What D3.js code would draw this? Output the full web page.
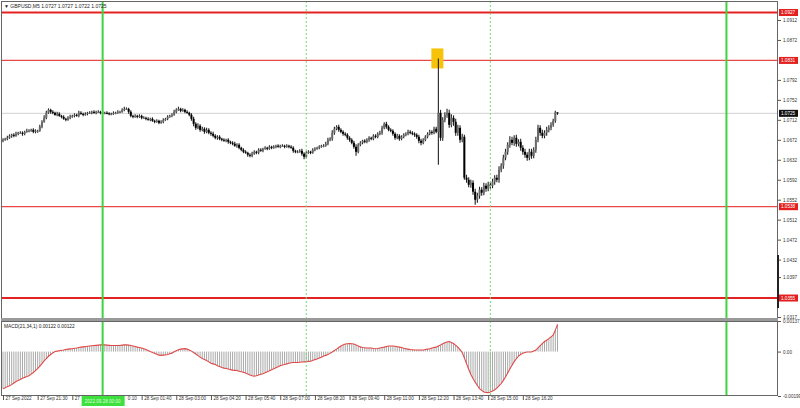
<!DOCTYPE html>
<html><head><meta charset="utf-8">
<script src="https://cdn.jsdelivr.net/npm/d3@7"></script>
<style>body{margin:0;background:#fff}svg{display:block}text{font-family:"Liberation Sans",Arial,sans-serif}</style>
</head><body><svg id="c" width="800" height="408"></svg>
<script>
const symbol = "GBPUSD,M5";
const titleQuote = ["1.0727","1.0727","1.0722","1.0725"];
const firstOpen = 1.0670;
const closes = [1.0672,1.0674,1.0676,1.0680,1.0682,1.0680,1.0684,1.0686,1.0686,1.0684,
1.0688,1.0690,1.0690,1.0692,1.0688,1.0690,1.0690,1.0698,1.0708,1.0716,
1.0726,1.0732,1.0728,1.0726,1.0722,1.0724,1.0720,1.0718,1.0714,1.0712,
1.0716,1.0718,1.0720,1.0722,1.0720,1.0726,1.0724,1.0722,1.0724,1.0726,
1.0726,1.0728,1.0726,1.0728,1.0728,1.0726,1.0726,1.0726,1.0725,1.0724,
1.0724,1.0726,1.0726,1.0728,1.0728,1.0732,1.0734,1.0734,1.0728,1.0720,
1.0718,1.0720,1.0718,1.0720,1.0716,1.0716,1.0714,1.0712,1.0714,1.0710,
1.0708,1.0710,1.0706,1.0708,1.0712,1.0714,1.0718,1.0720,1.0722,1.0728,
1.0732,1.0734,1.0730,1.0732,1.0728,1.0726,1.0722,1.0714,1.0704,1.0696,
1.0700,1.0692,1.0694,1.0688,1.0692,1.0686,1.0684,1.0680,1.0676,1.0678,
1.0674,1.0672,1.0670,1.0672,1.0668,1.0666,1.0664,1.0660,1.0662,1.0656,
1.0652,1.0648,1.0646,1.0642,1.0640,1.0644,1.0648,1.0646,1.0652,1.0650,
1.0654,1.0656,1.0654,1.0658,1.0656,1.0658,1.0660,1.0658,1.0660,1.0660,
1.0658,1.0660,1.0658,1.0656,1.0650,1.0648,1.0648,1.0650,1.0644,1.0638,
1.0646,1.0648,1.0646,1.0652,1.0654,1.0656,1.0658,1.0660,1.0660,1.0664,
1.0672,1.0674,1.0686,1.0694,1.0698,1.0692,1.0688,1.0684,1.0682,1.0676,
1.0672,1.0666,1.0658,1.0648,1.0662,1.0666,1.0670,1.0668,1.0672,1.0676,
1.0674,1.0680,1.0678,1.0684,1.0686,1.0696,1.0704,1.0698,1.0692,1.0690,
1.0684,1.0676,1.0680,1.0674,1.0678,1.0682,1.0684,1.0688,1.0686,1.0684,
1.0682,1.0678,1.0670,1.0666,1.0672,1.0678,1.0684,1.0688,1.0686,1.0694,
1.0688,1.0726,1.0676,1.0712,1.0722,1.0726,1.0702,1.0716,1.0708,1.0686,
1.0696,1.0672,1.0678,1.0596,1.0592,1.0582,1.0586,1.0568,1.0552,1.0560,
1.0572,1.0566,1.0580,1.0574,1.0582,1.0580,1.0588,1.0596,1.0592,1.0612,
1.0620,1.0636,1.0648,1.0662,1.0672,1.0666,1.0676,1.0664,1.0668,1.0656,
1.0648,1.0642,1.0636,1.0648,1.0640,1.0652,1.0672,1.0696,1.0686,1.0680,
1.0686,1.0692,1.0696,1.0702,1.0710,1.0727,1.0725];
const wickUpPips = [3,2,4,3,2,3,4,2,3,3,2,4,3,2,3,3,2,4,3,5,
4,3,2,3,2,4,3,2,3,2,3,4,2,3,2,4,3,2,3,2,
3,2,3,2,3,2,3,2,3,2,2,3,2,3,2,3,4,3,2,3,
2,3,2,3,2,3,2,3,2,3,2,3,2,3,3,2,3,2,3,4,
3,4,2,3,2,3,2,3,4,3,5,3,4,3,4,3,3,4,3,3,
3,2,3,2,3,2,3,4,3,3,2,3,3,2,3,4,3,2,3,3,
2,3,2,3,2,3,2,3,2,3,2,3,2,3,3,2,3,3,4,3,
3,3,2,3,3,2,3,2,3,4,4,3,5,4,3,4,3,3,3,3,
3,3,4,5,3,3,2,3,3,3,2,3,3,3,4,4,3,4,3,3,
3,3,4,3,3,3,3,4,3,3,3,3,4,4,3,3,3,4,3,4,
4,109,6,5,5,8,6,7,5,6,6,5,6,4,6,5,6,5,6,6,
6,5,6,5,6,5,6,5,6,7,5,6,6,5,7,6,5,6,5,6,
5,6,5,6,6,5,6,6,5,6,5,6,5,5,4,3,0];
const wickDownPips = [3,2,3,2,4,3,2,3,2,4,3,2,3,2,3,3,4,2,3,2,
3,2,4,3,2,3,2,3,2,3,2,3,2,3,2,3,2,3,2,3,
2,3,2,3,2,3,2,3,2,3,3,2,3,2,3,2,3,2,4,3,
3,2,3,2,3,2,3,2,3,2,3,2,3,2,3,2,3,2,3,2,
3,2,3,2,3,2,3,4,5,4,3,4,3,4,3,3,4,3,3,4,
3,3,2,3,4,3,3,2,4,3,3,3,2,4,3,3,2,3,3,2,
3,2,3,2,3,2,3,2,3,2,3,2,3,2,4,3,3,2,4,5,
3,2,3,2,3,2,3,2,3,2,3,3,4,4,3,4,3,4,3,4,
4,3,4,8,3,3,3,3,3,4,3,3,3,3,3,4,3,4,3,3,
4,4,3,4,3,3,3,3,3,3,4,4,5,5,3,3,3,3,4,3,
3,66,6,6,5,6,6,5,8,6,6,6,5,4,6,5,6,6,10,6,
6,6,5,6,5,6,5,6,5,6,5,6,5,6,6,5,6,6,5,6,
6,6,6,5,6,5,6,5,6,5,5,6,5,5,4,4,3];
const macd = [-0.00166,-0.00162,-0.00157,-0.00153,-0.00148,-0.00141,-0.00134,-0.00130,-0.00125,-0.00120,
-0.00116,-0.00112,-0.00108,-0.00101,-0.00094,-0.00085,-0.00076,-0.00065,-0.00054,-0.00042,
-0.00031,-0.00021,-0.00013,-0.00006,0.00000,0.00002,0.00004,0.00006,0.00007,0.00009,
0.00011,0.00012,0.00013,0.00015,0.00016,0.00018,0.00020,0.00021,0.00022,0.00024,
0.00025,0.00026,0.00027,0.00028,0.00029,0.00030,0.00030,0.00030,0.00029,0.00028,
0.00027,0.00027,0.00027,0.00027,0.00027,0.00029,0.00030,0.00030,0.00029,0.00027,
0.00025,0.00023,0.00020,0.00018,0.00016,0.00013,0.00009,0.00005,0.00000,-0.00004,
-0.00007,-0.00012,-0.00016,-0.00017,-0.00016,-0.00015,-0.00013,-0.00010,-0.00007,-0.00001,
0.00004,0.00008,0.00011,0.00012,0.00013,0.00011,0.00007,0.00002,-0.00004,-0.00011,
-0.00018,-0.00025,-0.00031,-0.00036,-0.00040,-0.00046,-0.00052,-0.00055,-0.00058,-0.00063,
-0.00067,-0.00071,-0.00074,-0.00076,-0.00078,-0.00081,-0.00083,-0.00084,-0.00085,-0.00088,
-0.00090,-0.00093,-0.00096,-0.00101,-0.00105,-0.00108,-0.00110,-0.00108,-0.00105,-0.00102,
-0.00099,-0.00095,-0.00090,-0.00086,-0.00081,-0.00077,-0.00072,-0.00068,-0.00063,-0.00060,
-0.00058,-0.00055,-0.00052,-0.00050,-0.00049,-0.00049,-0.00049,-0.00048,-0.00047,-0.00046,
-0.00045,-0.00044,-0.00043,-0.00040,-0.00036,-0.00033,-0.00029,-0.00025,-0.00020,-0.00017,
-0.00013,-0.00008,-0.00002,0.00005,0.00011,0.00018,0.00025,0.00030,0.00034,0.00035,
0.00036,0.00035,0.00034,0.00030,0.00025,0.00021,0.00018,0.00017,0.00016,0.00016,
0.00016,0.00014,0.00013,0.00014,0.00016,0.00018,0.00020,0.00023,0.00025,0.00025,
0.00025,0.00024,0.00022,0.00020,0.00018,0.00015,0.00013,0.00011,0.00009,0.00008,
0.00007,0.00007,0.00007,0.00007,0.00007,0.00009,0.00011,0.00013,0.00016,0.00018,
0.00020,0.00025,0.00029,0.00035,0.00040,0.00043,0.00045,0.00041,0.00036,0.00028,
0.00020,0.00009,-0.00004,-0.00028,-0.00054,-0.00079,-0.00103,-0.00121,-0.00137,-0.00152,
-0.00166,-0.00174,-0.00181,-0.00183,-0.00184,-0.00181,-0.00177,-0.00171,-0.00164,-0.00154,
-0.00143,-0.00129,-0.00114,-0.00096,-0.00078,-0.00061,-0.00045,-0.00032,-0.00020,-0.00013,
-0.00007,-0.00004,-0.00002,-0.00002,-0.00002,0.00003,0.00007,0.00017,0.00027,0.00036,
0.00045,0.00051,0.00058,0.00066,0.00074,0.00096,0.00122];
const macdTitle = "MACD(21,34,1) 0.00122 0.00122";
const priceTicks = [1.0912,1.0872,1.0792,1.0752,1.0712,1.0672,1.0632,1.0592,1.0552,1.0512,1.0472,1.0432,1.0397,1.0317];
const levels = [1.0927,1.0831,1.0538,1.0355];
const levelStrong = [true,false,false,true];
const currentPrice = 1.0725;
const rangeMark = [1.0441,1.0335];
const macdTicks = [0.00137,0.00,-0.00199];
const macdTickLabels = ["0.00137","0.00","-0.00199"];
const timeTickIdx = [0,16,32,48,64,80,96,112,128,144,160,176,192,208,224,240];
const timeTickLabels = ["27 Sep 2022","27 Sep 21:30","27 Sep 22:50","28 Sep 00:10","28 Sep 01:40","28 Sep 03:00","28 Sep 04:20","28 Sep 05:40","28 Sep 07:00","28 Sep 08:20","28 Sep 09:40","28 Sep 11:00","28 Sep 12:20","28 Sep 13:40","28 Sep 15:00","28 Sep 16:20"];
const markerIdx = [46,140,225,334];
const markerSolid = [true,false,false,true];
const markerLabel = "2022.09.28 00:00";
const spikeIdx = 201;

const svg = d3.select("#c");
const W = 800, H = 408;
const L = 1, R = 778, mainTop = 1, mainBot = 318, mTop = 321, mBot = 395;
const x = d3.scaleLinear().domain([0, closes.length - 1]).range([3, 557.5]);
const y = d3.scaleLinear().domain([1.0317, 1.0912]).range([317, 20]);
const ym = d3.scaleLinear().domain([-0.00199, 0.00137]).range([396, 321]);
const pip = 0.0001;
const bars = closes.map((c, i) => {
  const o = i ? closes[i-1] : firstOpen;
  return {i, o, c, h: Math.max(o, c) + wickUpPips[i]*pip, l: Math.min(o, c) - wickDownPips[i]*pip};
});

svg.append("rect").attr("width", W).attr("height", H).attr("fill", "#fff");
const defs = svg.append("defs");
defs.append("clipPath").attr("id","cm").append("rect").attr("x",L).attr("y",mainTop).attr("width",R-L).attr("height",mainBot-mainTop);
defs.append("clipPath").attr("id","cb").append("rect").attr("x",L).attr("y",mTop).attr("width",R-L).attr("height",mBot-mTop);

const main = svg.append("g").attr("clip-path","url(#cm)");
main.append("line").attr("x1",L).attr("x2",R).attr("y1",y(currentPrice)).attr("y2",y(currentPrice)).attr("stroke","#d0d0d0").attr("stroke-width",1);
main.selectAll(".lvl").data(levels).join("line")
  .attr("x1",L).attr("x2",R).attr("y1",d=>y(d)).attr("y2",d=>y(d))
  .attr("stroke",(d,i)=>levelStrong[i]?"#e52222":"#e84848").attr("stroke-width",(d,i)=>levelStrong[i]?2:1.2);
const sb = bars[spikeIdx];
main.append("rect").attr("x",x(spikeIdx)-7).attr("y",y(sb.h)-10).attr("width",12).attr("height",20).attr("fill","#f6c20a");
main.selectAll(".wk").data(bars).join("line")
  .attr("x1",d=>x(d.i)).attr("x2",d=>x(d.i)).attr("y1",d=>y(d.h)).attr("y2",d=>y(d.l))
  .attr("stroke","#222").attr("stroke-width",1.1);
main.selectAll(".bd").data(bars).join("rect")
  .attr("x",d=>x(d.i)-1).attr("width",2)
  .attr("y",d=>y(Math.max(d.o,d.c))).attr("height",d=>Math.max(1,Math.abs(y(d.o)-y(d.c))))
  .attr("fill",d=>d.c>=d.o?"#6a6a6a":"#000");

const mg = svg.append("g").attr("clip-path","url(#cb)");
mg.selectAll(".hb").data(macd).join("line")
  .attr("x1",(d,i)=>x(i)).attr("x2",(d,i)=>x(i)).attr("y1",ym(0)).attr("y2",d=>ym(d))
  .attr("stroke","#a8a8a8").attr("stroke-width",1);
mg.append("path").datum(macd).attr("fill","none").attr("stroke","#e04848").attr("stroke-width",1.1)
  .attr("d", d3.line().x((d,i)=>x(i)).y(d=>ym(d)));

svg.selectAll(".mk").data(markerIdx).join("line")
  .attr("x1",d=>x(d)).attr("x2",d=>x(d)).attr("y1",mainTop).attr("y2",mBot)
  .attr("stroke",(d,i)=>markerSolid[i]?"#3ed43e":"#6edc6e")
  .attr("stroke-width",(d,i)=>markerSolid[i]?2:1)
  .attr("stroke-dasharray",(d,i)=>markerSolid[i]?null:"2,2");

svg.append("rect").attr("x",L+0.5).attr("y",mainTop+0.5).attr("width",R-L-1).attr("height",mainBot-mainTop).attr("fill","none").attr("stroke","#666").attr("stroke-width",1);
svg.append("rect").attr("x",L).attr("y",mainBot).attr("width",R-L).attr("height",3).attr("fill","#9a9a9a");
svg.append("rect").attr("x",L+0.5).attr("y",mTop+0.5).attr("width",R-L-1).attr("height",mBot-mTop).attr("fill","none").attr("stroke","#666").attr("stroke-width",1);

svg.append("text").attr("x",4).attr("y",8).attr("font-size",5).attr("fill","#222")
  .text("▼ " + symbol + " " + titleQuote.join(" "));
svg.append("text").attr("x",4).attr("y",328).attr("font-size",4.8).attr("fill","#222").text(macdTitle);

const ax = svg.append("g").attr("transform",`translate(${R},0)`)
  .call(d3.axisRight(y).tickValues(priceTicks).tickSize(3).tickPadding(2).tickFormat(d3.format(".4f")));
ax.select(".domain").remove();
ax.selectAll("line").attr("stroke","#555");
ax.selectAll("text").attr("font-size",4.6).attr("fill","#333").attr("font-family","Liberation Sans, Arial, sans-serif");
svg.append("line").attr("x1",R).attr("x2",R).attr("y1",y(rangeMark[0])).attr("y2",y(rangeMark[1])).attr("stroke","#222").attr("stroke-width",2);
const lblG = svg.append("g");
const tags = levels.map(v=>({v, bg:"#e3201f"})).concat([{v:currentPrice,bg:"#111"}]);
tags.forEach(t=>{
  lblG.append("rect").attr("x",R+1).attr("y",y(t.v)-3.5).attr("width",19).attr("height",7).attr("fill",t.bg);
  lblG.append("text").attr("x",R+3).attr("y",y(t.v)+1.7).attr("font-size",4.6).attr("fill","#fff").text(t.v.toFixed(4));
});

const axm = svg.append("g").attr("transform",`translate(${R},0)`)
  .call(d3.axisRight(ym).tickValues(macdTicks).tickSize(3).tickPadding(2).tickFormat((d,i)=>macdTickLabels[i]));
axm.select(".domain").remove();
axm.selectAll("line").attr("stroke","#555");
axm.selectAll("text").attr("font-size",4.6).attr("fill","#333").attr("font-family","Liberation Sans, Arial, sans-serif");

const axb = svg.append("g").attr("transform",`translate(0,${mBot})`)
  .call(d3.axisBottom(x).tickValues(timeTickIdx).tickSize(5).tickPadding(1).tickFormat((d,i)=>timeTickLabels[i]));
axb.select(".domain").remove();
axb.selectAll("line").attr("stroke","#555");
axb.selectAll("text").attr("font-size",4.6).attr("fill","#333").attr("text-anchor","start").attr("dx",2).attr("dy",-0.6).attr("font-family","Liberation Sans, Arial, sans-serif");

// marker time label box (covers part of the time labels, as in the terminal)
const mx = x(markerIdx[0]);
const boxL = mx - 21, boxR = mx + 22;
// trim the time labels hidden under the box to their visible parts
axb.selectAll(".tick").each(function(d){
  const tx = x(d) + 2;
  const t = d3.select(this).select("text");
  let s = t.text();
  const w = t.node().getComputedTextLength();
  if (tx < boxL && tx + w > boxL) {
    while (s.length && tx + t.node().getComputedTextLength() > boxL - 0.5) { s = s.slice(0,-1); t.text(s); }
  } else if (tx >= boxL && tx < boxR) {
    while (s.length && tx + t.node().getComputedTextLength() - 0 > 0) {
      const full = t.node().getComputedTextLength();
      if (tx + w - full >= boxR + 0.5) break;
      s = s.slice(1); t.text(s);
    }
    const nw = t.node().getComputedTextLength();
    t.attr("dx", 2 + (w - nw));
  }
});
svg.append("rect").attr("x",boxL).attr("y",396).attr("width",boxR-boxL).attr("height",10).attr("fill","#3ee03e");
svg.append("text").attr("x",mx).attr("y",402.8).attr("text-anchor","middle").attr("font-size",4.6).attr("fill","#d9ffd9").text(markerLabel);
</script></body></html>
